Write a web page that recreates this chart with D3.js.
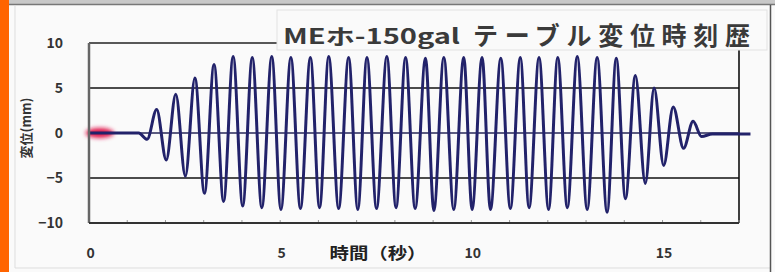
<!DOCTYPE html>
<html><head><meta charset="utf-8">
<script src="https://cdn.jsdelivr.net/npm/d3@7"></script>
<style>
body{margin:0;background:#fafafa;}
svg{display:block;}
text{font-family:"Noto Sans CJK JP","Noto Sans",sans-serif;}
</style></head>
<body><svg id="c" width="775" height="272"></svg>
<script>
const titleLatin = "MEホ-150gal";
const titleJapanese = "テーブル変位時刻歴";
const xLabel = "時間（秒）";
const yLabel = "変位(mm)";
const xTicks = [0, 5, 10, 15];
const yTicks = [-10, -5, 0, 5, 10];
const gridValues = [5, 0, -5];
const waveTime = [0, 1.30, 1.52, 1.77, 2.02, 2.27, 2.52, 2.77, 3.02, 3.27, 3.52, 3.77, 4.02, 4.27, 4.52, 4.78, 5.02, 5.28, 5.53, 5.79, 6.03, 6.27, 6.53, 6.79, 7.03, 7.27, 7.52, 7.79, 8.03, 8.28, 8.53, 8.80, 9.02, 9.28, 9.54, 9.80, 10.02, 10.28, 10.50, 10.77, 11.02, 11.28, 11.51, 11.77, 12.02, 12.26, 12.51, 12.77, 13.03, 13.29, 13.55, 13.79, 14.03, 14.29, 14.55, 14.78, 15.03, 15.28, 15.55, 15.80, 16.02, 16.30, 17.30];
const waveValue = [0, 0, -0.7, 2.6, -3.0, 4.3, -4.8, 6.1, -6.7, 7.6, -7.6, 8.5, -8.1, 8.4, -8.3, 8.5, -8.5, 8.4, -8.4, 8.4, -8.3, 8.5, -8.4, 8.4, -8.5, 8.4, -8.4, 8.5, -8.3, 8.4, -8.4, 8.3, -8.6, 8.4, -8.5, 8.4, -8.5, 8.4, -8.5, 8.3, -8.4, 8.4, -8.3, 8.4, -8.5, 8.4, -8.3, 8.5, -8.5, 8.4, -8.8, 8.3, -7.3, 6.4, -5.6, 5.0, -3.6, 2.9, -1.7, 1.3, -0.4, -0.1, -0.1];
const markerTime = [0.28];
const markerValue = [0];

const svg = d3.select("#c");
const defs = svg.append("defs");
defs.append("filter").attr("id","blur").attr("x","-50%").attr("y","-50%").attr("width","200%").attr("height","200%")
  .append("feGaussianBlur").attr("stdDeviation",2.2);
defs.append("filter").attr("id","soft")
  .append("feGaussianBlur").attr("stdDeviation",0.45);

// frame
svg.append("rect").attr("x",0).attr("y",0).attr("width",775).attr("height",272).attr("fill","#fafafa");
svg.append("rect").attr("x",0).attr("y",0).attr("width",775).attr("height",4).attr("fill","#c8c8c8");
svg.append("line").attr("x1",0).attr("x2",775).attr("y1",4.5).attr("y2",4.5).attr("stroke","#777").attr("stroke-width",1.5);
svg.append("rect").attr("x",0).attr("y",0).attr("width",9).attr("height",272).attr("fill","#ff6400");
svg.append("line").attr("x1",15).attr("x2",15).attr("y1",6).attr("y2",268).attr("stroke","#ddd");
svg.append("line").attr("x1",15).attr("x2",770).attr("y1",268).attr("y2",268).attr("stroke","#ddd");
svg.append("line").attr("x1",770.5).attr("x2",770.5).attr("y1",5).attr("y2",272).attr("stroke","#555").attr("stroke-width",1.5);

const x = d3.scaleLinear().domain([0,17]).range([89,739]);
const y = d3.scaleLinear().domain([-10,10]).range([223,43]);

const g = svg.append("g").attr("filter","url(#soft)");

// top border (10 line) and right border
g.append("line").attr("x1",x(0)).attr("x2",x(17)).attr("y1",y(10)).attr("y2",y(10)).attr("stroke","#222").attr("stroke-width",1.5);
g.append("line").attr("x1",x(17)).attr("x2",x(17)).attr("y1",y(10)).attr("y2",y(-10)).attr("stroke","#111").attr("stroke-width",1.6);

// grid lines
g.selectAll(".grid").data(gridValues).join("line")
  .attr("x1",x(0)).attr("x2",x(17))
  .attr("y1",d=>y(d)).attr("y2",d=>y(d))
  .attr("stroke",d=>d===0?"#2a2a5a":"#111").attr("stroke-width",1.6);

// minor ticks on bottom
g.selectAll(".mt").data(d3.range(0,18)).join("line")
  .attr("x1",d=>x(d)).attr("x2",d=>x(d)).attr("y1",y(-10)).attr("y2",y(-10)-3)
  .attr("stroke","#999").attr("stroke-width",1);

// red marker
g.selectAll(".mk").data(markerTime).join("ellipse")
  .attr("cx",d=>x(d)).attr("cy",(d,i)=>y(markerValue[i]))
  .attr("rx",14).attr("ry",5).attr("fill","#e0144a").attr("filter","url(#blur)");

// wave
const pts = waveTime.map((t,i)=>[t,waveValue[i]]);
const line = d3.line().x(d=>x(d[0])).y(d=>y(d[1])).curve(d3.curveMonotoneX);
g.append("path").datum(pts).attr("d",line).attr("fill","none")
  .attr("stroke","#22226a").attr("stroke-width",3).attr("stroke-linejoin","round");

// axes lines
g.append("line").attr("x1",x(0)).attr("x2",x(0)).attr("y1",y(10)).attr("y2",y(-10)).attr("stroke","#666").attr("stroke-width",2.5);
g.append("line").attr("x1",x(0)).attr("x2",x(17)).attr("y1",y(-10)).attr("y2",y(-10)).attr("stroke","#333").attr("stroke-width",2);

// tick labels
const yAxis = d3.axisLeft(y).tickValues(yTicks).tickSize(0).tickPadding(0).tickFormat(d3.format("d"));
const ya = svg.append("g").attr("transform","translate(63,0)").call(yAxis);
ya.select(".domain").remove();
ya.selectAll("text").attr("font-size",14).attr("font-weight","bold").attr("fill","#333")
  .attr("font-family","Arial, 'Liberation Sans', sans-serif");

const xAxis = d3.axisBottom(x).tickValues(xTicks).tickSize(0).tickPadding(0).tickFormat(d3.format("d"));
const xa = svg.append("g").attr("transform","translate(1,248)").call(xAxis);
xa.select(".domain").remove();
xa.selectAll("text").attr("font-size",14).attr("font-weight","bold").attr("fill","#333")
  .attr("font-family","Arial, 'Liberation Sans', sans-serif");

// axis titles
svg.append("text").attr("x",378).attr("y",259).attr("text-anchor","middle")
  .attr("font-size",16).attr("font-weight","bold").attr("fill","#222")
  .attr("textLength",97).attr("lengthAdjust","spacingAndGlyphs").text(xLabel);
svg.append("text").attr("transform","translate(31,128) rotate(-90)").attr("text-anchor","middle")
  .attr("font-size",13).attr("font-weight","bold").attr("fill","#333").text(yLabel);

// title box
svg.append("rect").attr("x",277).attr("y",10).attr("width",490).attr("height",40)
  .attr("fill","#fafafa").attr("stroke","#e2e2e2").attr("stroke-width",1);
svg.append("text").attr("x",283).attr("y",44)
  .attr("font-size",21).attr("font-weight","bold").attr("fill","#3a3a3a")
  .attr("textLength",177).attr("lengthAdjust","spacingAndGlyphs").text(titleLatin);
svg.append("text").attr("x",473).attr("y",45)
  .attr("font-size",25).attr("font-weight","bold").attr("fill","#3a3a3a")
  .attr("textLength",277).attr("lengthAdjust","spacing").text(titleJapanese);
</script>
</body></html>
